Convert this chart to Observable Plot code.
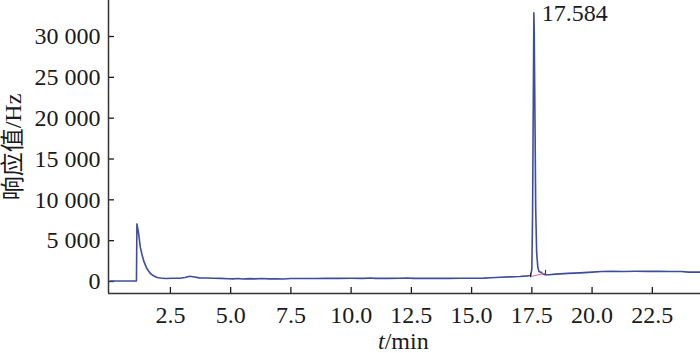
<!DOCTYPE html>
<html><head><meta charset="utf-8">
<script src="https://cdn.jsdelivr.net/npm/d3@7"></script>
<script src="https://cdn.jsdelivr.net/npm/@observablehq/plot@0.6"></script>
<style>body{margin:0;background:#fff}</style>
</head><body><div id="chart"></div>
<script>
// chromatogram: retention time (min) and detector response (Hz)
const times = [0, 0.5, 1.05, 1.09, 1.11, 1.18, 1.25, 1.32, 1.39, 1.46, 1.53, 1.6, 1.67, 1.8, 1.95, 2.1, 2.3, 2.6, 2.9, 3.1, 3.3, 3.5, 3.7, 4.0, 4.3, 4.6, 4.9, 5.1, 5.3, 5.5, 5.8, 6.0, 6.3, 6.6, 6.9, 7.2, 7.5, 8.0, 8.5, 9.0, 9.5, 10.0, 10.5, 10.8, 11.0, 11.5, 12.0, 12.3, 12.6, 13.0, 13.5, 14.0, 14.5, 15.0, 15.5, 15.8, 16.2, 16.6, 17.0, 17.3, 17.45, 17.5, 17.53, 17.56, 17.584, 17.6, 17.63, 17.66, 17.7, 17.75, 17.8, 17.88, 17.95, 18.05, 18.2, 18.5, 19.0, 19.5, 20.0, 20.4, 20.8, 21.3, 21.8, 22.3, 22.8, 23.2, 23.7, 24.0, 24.5];
const responses = [60, 60, 60, 70, 7050, 5880, 4200, 3300, 2530, 2000, 1555, 1250, 980, 700, 490, 420, 370, 400, 390, 480, 650, 540, 440, 430, 400, 380, 340, 320, 360, 310, 350, 320, 360, 320, 340, 310, 360, 370, 370, 380, 380, 390, 380, 430, 380, 380, 390, 420, 380, 380, 380, 380, 390, 390, 410, 450, 520, 570, 610, 690, 740, 1500, 8000, 22000, 32900, 30500, 20000, 9000, 3500, 1700, 1200, 1150, 950, 820, 830, 900, 990, 1060, 1150, 1220, 1240, 1230, 1250, 1240, 1250, 1230, 1220, 1150, 1150];

const xTicks = [2.5, 5.0, 7.5, 10.0, 12.5, 15.0, 17.5, 20.0, 22.5];
const yTicks = [0, 5000, 10000, 15000, 20000, 25000, 30000];
const xDomain = [-0.07, 24.5];
const yDomain = [-1470, 34410];

const peakTimes = [17.584];
const peakValues = [32900];
const peakLabels = ["17.584"];

const integTimes = [17.45, 18.07];
const integValues = [610, 1016];

const yTitle = "响应值/Hz";
const xTitleVar = "t";
const xTitleUnit = "/min";

const data = times.map((t, i) => ({t, v: responses[i]}));
const peaks = peakTimes.map((t, i) => ({t, v: peakValues[i], label: peakLabels[i]}));
const integ = integTimes.map((t, i) => ({t, v: integValues[i]}));
const fmtY = d => d3.format(",")(d).replace(/,/g, " ");

const chart = Plot.plot({
  width: 700, height: 353,
  marginLeft: 108, marginRight: 0, marginTop: 0, marginBottom: 60,
  style: {fontFamily: "'Liberation Serif', 'Noto Sans CJK SC', serif", fontSize: "24px", background: "#fff", color: "#1a1a1a"},
  x: {domain: xDomain},
  y: {domain: yDomain},
  marks: [
    Plot.axisX({ticks: xTicks, tickFormat: d => d.toFixed(1), tickSize: -6, tickPadding: 18, label: null, fontSize: 24, strokeWidth: 1.3}),
    Plot.axisY({ticks: yTicks, tickFormat: fmtY, tickSize: -6, tickPadding: 14, label: null, fontSize: 24, strokeWidth: 1.3}),
    Plot.ruleX([xDomain[0]], {stroke: "#333", strokeWidth: 1.5}),
    Plot.ruleY([yDomain[0]], {stroke: "#333", strokeWidth: 1.5}),
    Plot.line(data, {x: "t", y: "v", stroke: "#3f4c9f", strokeWidth: 1.6}),
    Plot.line(integ, {x: "t", y: "v", stroke: "#e0609a", strokeWidth: 1}),
    Plot.ruleX(integ, {x: "t", y1: d => d.v - 150, y2: d => d.v + 350, stroke: "#222", strokeWidth: 1}),
    Plot.text(peaks, {x: "t", y: "v", text: "label", textAnchor: "start", lineAnchor: "bottom", dx: 8, dy: 8, fontSize: 24}),
    Plot.text([yTitle], {frameAnchor: "left", textAnchor: "middle", lineAnchor: "middle", rotate: -90, dx: -95, fontSize: 24}),
    Plot.text([xTitleVar], {frameAnchor: "bottom", textAnchor: "start", lineAnchor: "bottom", dx: -26.5, dy: 55, fontStyle: "italic", fontSize: 24}),
    Plot.text([xTitleUnit], {frameAnchor: "bottom", textAnchor: "start", lineAnchor: "bottom", dx: -19.8, dy: 55, fontSize: 24})
  ]
});
document.getElementById("chart").appendChild(chart);
</script>
</body></html>
